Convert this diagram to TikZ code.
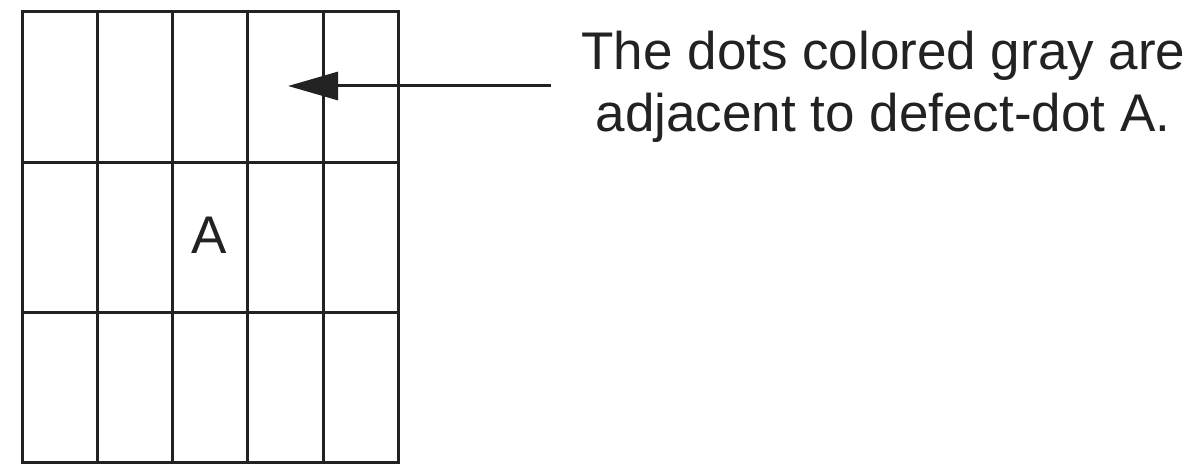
\documentclass[tikz,border=0pt]{standalone}
\usepackage{fontspec}
\setmainfont{Liberation Sans}
\usetikzlibrary{arrows.meta}
\definecolor{ink}{HTML}{222222}
\tikzset{
  gridline/.style={draw=ink, line width=3pt, line cap=rect},
  label/.style={text=ink, font=\fontsize{53}{62}\selectfont, inner sep=0pt},
  pointer/.style={draw=ink, line width=3pt, -{Triangle[length=50pt,width=28pt]}}
}
\begin{document}
\begin{tikzpicture}[x=1pt,y=-1pt]
\useasboundingbox (0,0) rectangle (1190,468);
% grid
\foreach \xx in {22,97,172,247.5,323,398.5}
  \draw[gridline] (\xx,11.5) -- (\xx,462.5);
\foreach \yy in {11.5,162,312,462.5}
  \draw[gridline] (22,\yy) -- (398.5,\yy);
\node[label, anchor=base] (A) at (209.5,253) {A};
% text
\node[label, anchor=base] (t1) at (883.5,70) {The dots colored gray are};
\node[label, anchor=base] (t2) at (883,131.5) {adjacent to defect-dot A.};
% arrow
\coordinate (tail) at (551,86);
\coordinate (tip) at (288,86);
\draw[pointer] (tail) -- (tip);
\end{tikzpicture}
\end{document}
